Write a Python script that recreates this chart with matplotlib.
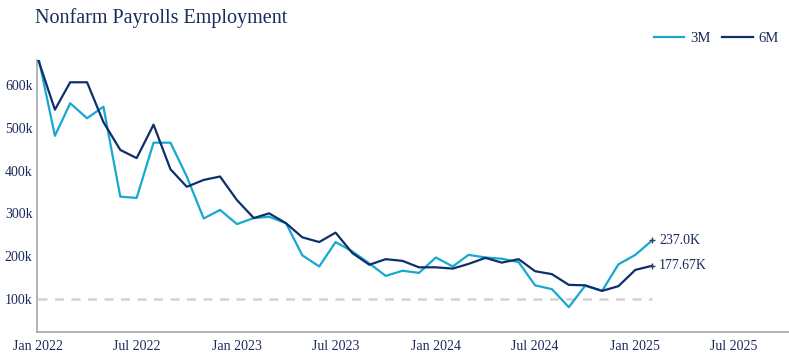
import matplotlib
matplotlib.use("Agg")
import matplotlib.pyplot as plt
import matplotlib.dates as mdates
import numpy as np
import pandas as pd
from matplotlib.ticker import FuncFormatter

dates = pd.date_range("2022-01-01", "2025-02-01", freq="MS")
m3 = [668, 481, 557, 522, 549, 339, 336, 465, 465, 386, 288, 308, 275, 289, 292,
      277, 202, 176, 233, 211, 183, 154, 166, 161, 197, 176, 203, 197, 194, 186,
      132, 123, 81, 131, 119, 181, 203, 237.0]
m6 = [660, 542, 606, 606, 513, 448, 429, 507, 403, 362, 378, 386, 331, 289, 300,
      277, 244, 233, 255, 207, 180, 193, 189, 174, 174, 171, 182, 196, 185, 193,
      165, 158, 133, 132, 119, 130, 168, 177.67]
series_names = ["3M", "6M"]
end_labels = ["237.0K", "177.67K"]
ref_level = 100
xtick_labels = ["Jan 2022", "Jul 2022", "Jan 2023", "Jul 2023", "Jan 2024",
                "Jul 2024", "Jan 2025", "Jul 2025"]
xtick_dates = pd.to_datetime(["2022-01-01", "2022-07-01", "2023-01-01", "2023-07-01",
                              "2024-01-01", "2024-07-01", "2025-01-01", "2025-07-01"])

C3 = "#17a8d2"
C6 = "#0e2f6b"
TXT = "#1b2a5a"
SER = ["Liberation Serif", "DejaVu Serif"]

plt.rcParams["font.family"] = SER

fig = plt.figure(figsize=(7.89, 3.61), dpi=100)
ax = fig.add_axes([36.7 / 789, 1 - 332 / 361, 1 - 36.7 / 789, (332 - 60) / 361])

ax.plot(dates, [v * 1000 for v in m3], color=C3, lw=1.6, label=series_names[0], zorder=3)
ax.plot(dates, [v * 1000 for v in m6], color=C6, lw=1.6, label=series_names[1], zorder=3)
ax.plot([dates[0], dates[-1]], [ref_level * 1000] * 2, color="#d3d3d3", lw=1.8,
        dashes=(3.6, 3.0), zorder=1)

for vals, lab, col in [(m3, end_labels[0], C3), (m6, end_labels[1], C6)]:
    ax.plot([dates[-1]], [vals[-1] * 1000], marker="+", ms=4, mew=1.0, color="#333f5a", zorder=4)
    ax.annotate(lab, (dates[-1], vals[-1] * 1000), xytext=(5, 0), textcoords="offset points",
                va="center", ha="left", fontsize=10, color=TXT)

ax.set_ylim(23000, 658000)
ax.set_xlim(pd.Timestamp("2021-12-29 14:00"), pd.Timestamp("2025-10-10"))
ax.set_yticks([100000, 200000, 300000, 400000, 500000, 600000])
ax.yaxis.set_major_formatter(FuncFormatter(lambda v, p: f"{int(v/1000)}k"))
ax.set_xticks(xtick_dates)
ax.set_xticklabels(xtick_labels)
ax.tick_params(axis="both", length=0, labelsize=10, labelcolor=TXT)
ax.tick_params(axis="y", pad=3)
ax.tick_params(axis="x", pad=6)
for s in ["top", "right"]:
    ax.spines[s].set_visible(False)
for s in ["left", "bottom"]:
    ax.spines[s].set_color("#a3a7ab")
    ax.spines[s].set_linewidth(1.2)

fig.text(35 / 789, 1 - 18.5 / 361, "Nonfarm Payrolls Employment", fontsize=14.5,
         color=TXT, va="center", ha="left")

fig.legend(loc="center right", bbox_to_anchor=(792 / 789, 1 - 38 / 361), ncol=2,
           frameon=False, fontsize=10.5, handlelength=2.1, columnspacing=0.8,
           handletextpad=0.4, labelcolor=TXT)

fig.savefig("out.png", dpi=100)
